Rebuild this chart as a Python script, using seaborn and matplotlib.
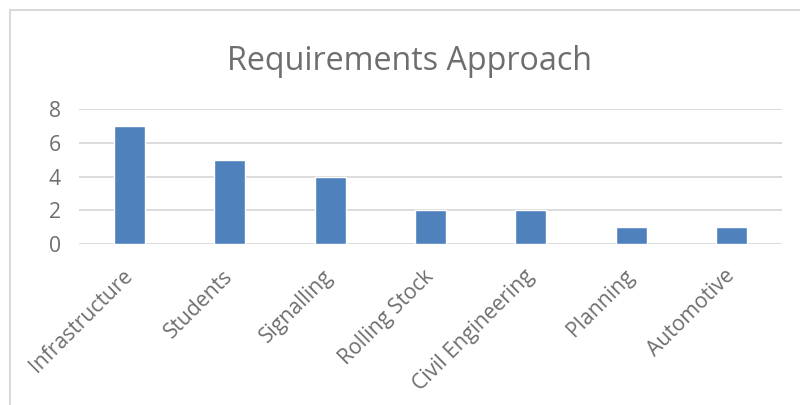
import matplotlib
matplotlib.use("Agg")
import matplotlib.pyplot as plt
import seaborn as sns
import pandas as pd
from matplotlib.patches import Rectangle

categories = ["Infrastructure", "Students", "Signalling", "Rolling Stock",
              "Civil Engineering", "Planning", "Automotive"]
counts = [7, 5, 4, 2, 2, 1, 1]
y_ticks = [0, 2, 4, 6, 8]
title = "Requirements Approach"

sns.set_theme(style="white")
plt.rcParams["font.family"] = ["Open Sans", "DejaVu Sans"]

text_gray = "#6E6E6E"
grid_gray = "#D9D9D9"
bar_blue = "#4F81BD"

df = pd.DataFrame({"category": categories, "count": counts})

fig = plt.figure(figsize=(8, 4.05), dpi=100)
fig.patch.set_facecolor("white")

# chart frame
fig.patches.append(Rectangle((10 / 800, -0.1), 1.0, 1 - 10 / 405 + 0.1,
                             transform=fig.transFigure, fill=False,
                             edgecolor=grid_gray, linewidth=1.5))

ax = fig.add_axes([79 / 800, 1 - 244 / 405, 703 / 800, 135 / 405])
sns.barplot(data=df, x="category", y="count", color=bar_blue,
            saturation=1, width=0.31, ax=ax, zorder=3)

ax.set_ylim(0, 8)
ax.set_yticks(y_ticks)
ax.set_xlim(-0.5, len(categories) - 0.5)
for t in y_ticks:
    ax.axhline(t, color=grid_gray, linewidth=1.3, zorder=1)
for s in ax.spines.values():
    s.set_visible(False)
ax.set_xlabel("")
ax.set_ylabel("")
ax.tick_params(axis="both", length=0, colors=text_gray, labelsize=15.2)
ax.tick_params(axis="y", pad=13)
ax.tick_params(axis="x", pad=21)
ax.set_xticks(range(len(categories)))
ax.set_xticklabels(categories, rotation=45, ha="right", va="center",
                   rotation_mode="anchor")

fig.text(410 / 800, 1 - 70 / 405, title, ha="center", va="baseline",
         fontsize=23.2, color=text_gray)

fig.savefig("out.png", dpi=100)
